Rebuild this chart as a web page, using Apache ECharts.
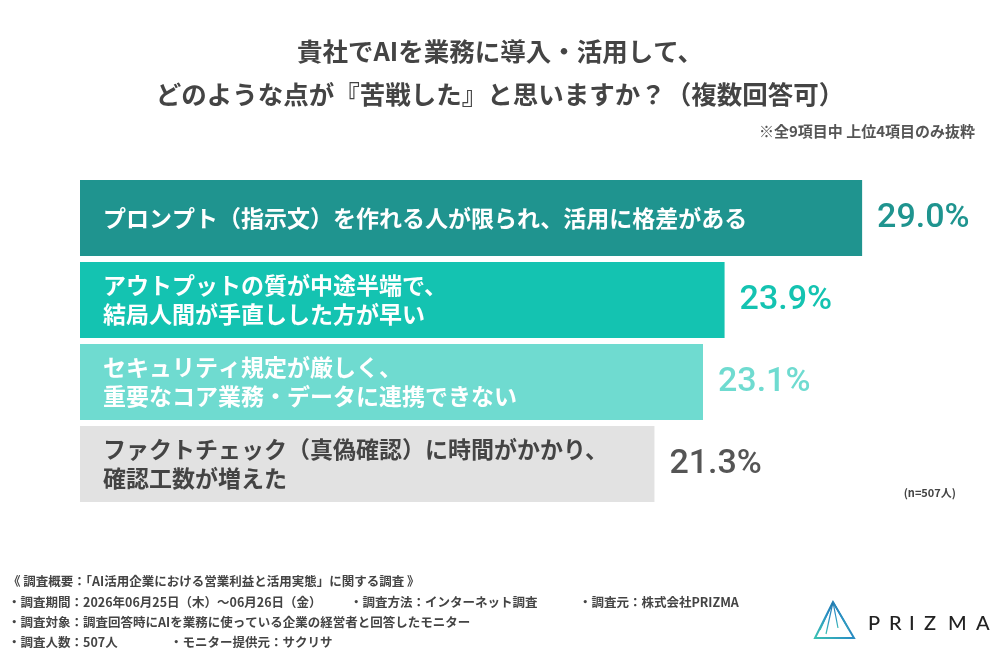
<!DOCTYPE html>
<html><head><meta charset="utf-8">
<script src="https://cdn.jsdelivr.net/npm/echarts@6/dist/echarts.min.js"></script>
<style>html,body{margin:0;padding:0;background:#fff}#c{width:1000px;height:650px}</style>
</head><body><div id="c"></div>
<script>
const categories = [
  'プロンプト（指示文）を作れる人が限られ、活用に格差がある',
  'アウトプットの質が中途半端で、\n結局人間が手直しした方が早い',
  'セキュリティ規定が厳しく、\n重要なコア業務・データに連携できない',
  'ファクトチェック（真偽確認）に時間がかかり、\n確認工数が増えた'
];
const values = [29.0, 23.9, 23.1, 21.3];
const barColors = ['#1f948f', '#14c3b1', '#6fdbd0', '#e2e2e2'];
const valueColors = ['#1f948f', '#14c3b1', '#6fdbd0', '#555555'];
const nameColors = ['#ffffff', '#ffffff', '#ffffff', '#444444'];
const titleText = '貴社でAIを業務に導入・活用して、\nどのような点が『苦戦した』と思いますか？（複数回答可）';
const noteText = '※全9項目中 上位4項目のみ抜粋';
const sampleText = '(n=507人)';
const footLines = [
  ['《 調査概要：「AI活用企業における営業利益と活用実態」に関する調査 》'],
  ['・調査期間：2026年06月25日（木）～06月26日（金）', '・調査方法：インターネット調査', '・調査元：株式会社PRIZMA'],
  ['・調査対象：調査回答時にAIを業務に使っている企業の経営者と回答したモニター'],
  ['・調査人数：507人', '・モニター提供元：サクリサ']
];
const footX = [[8], [8, 350, 579], [8], [8, 170]];
const footY = [583, 604, 624, 644];
const logoLetters = ['P', 'R', 'I', 'Z', 'M', 'A'];
const logoX = [868, 889, 909, 924, 948, 976];

const jp = "'Noto Sans CJK JP', 'Noto Sans', sans-serif";
const num = "Roboto, 'Noto Sans', sans-serif";

const graphics = [];
footLines.forEach((line, i) => {
  line.forEach((t, j) => {
    graphics.push({type: 'text', left: footX[i][j], top: footY[i] - 8,
      style: {text: t, fill: '#444', font: 'bold 12.5px ' + jp}});
  });
});
graphics.push({type: 'text', right: 25, top: 124,
  style: {text: noteText, fill: '#555', font: 'bold 15px ' + jp}});
graphics.push({type: 'text', right: 44, top: 487,
  style: {text: sampleText, fill: '#444', font: 'bold 11px ' + jp}});
// logo
const grad = {type: 'linear', x: 0, y: 1, x2: 1, y2: 0, colorStops: [
  {offset: 0, color: '#3cc7b0'}, {offset: 0.5, color: '#2a8fc4'}, {offset: 1, color: '#1f6fa0'}]};
graphics.push({type: 'polygon', shape: {points: [[833, 602], [815, 638], [854, 638]]},
  style: {fill: 'none', stroke: grad, lineWidth: 2}});
[[833, 602, 820, 630], [833, 602, 826, 634], [833, 602, 838, 628], [833, 602, 846, 624], [833, 602, 849, 630]].forEach(p => {
  graphics.push({type: 'line', shape: {x1: p[0], y1: p[1], x2: p[2], y2: p[3]},
    style: {stroke: grad, lineWidth: 1.2}});
});
logoLetters.forEach((ch, i) => {
  graphics.push({type: 'text', left: logoX[i], top: 614,
    style: {text: ch, fill: '#222', font: '500 20px Lato, sans-serif'}});
});

const chart = echarts.init(document.getElementById('c'));
chart.setOption({
  backgroundColor: '#fff',
  animation: false,
  title: {text: titleText, left: 'center', top: 25,
    textStyle: {fontFamily: jp, fontSize: 25.5, fontWeight: 'bold', color: '#444', lineHeight: 43}},
  grid: {left: 80, right: 30, top: 177, height: 328},
  xAxis: {type: 'value', min: 0, max: 33, show: false},
  yAxis: {type: 'category', data: categories, inverse: true, show: false},
  series: [
    {type: 'bar', barCategoryGap: '7.3%',
      data: values.map((v, i) => ({value: v, label: {color: valueColors[i]}})),
      itemStyle: {color: p => barColors[p.dataIndex]},
      label: {show: true, position: 'right', distance: 15,
        formatter: p => p.value.toFixed(1) + '%',
        fontFamily: num, fontSize: 34, fontWeight: 500}},
    {type: 'bar', barGap: '-100%', barCategoryGap: '7.3%',
      data: values.map((v, i) => ({value: v, label: {color: nameColors[i]}})),
      itemStyle: {color: 'transparent'}, silent: true,
      label: {show: true, position: 'insideLeft', distance: 23,
        formatter: p => categories[p.dataIndex],
        fontFamily: jp, fontSize: 23, fontWeight: 'bold', lineHeight: 29}}
  ],
  graphic: graphics
});
</script></body></html>
